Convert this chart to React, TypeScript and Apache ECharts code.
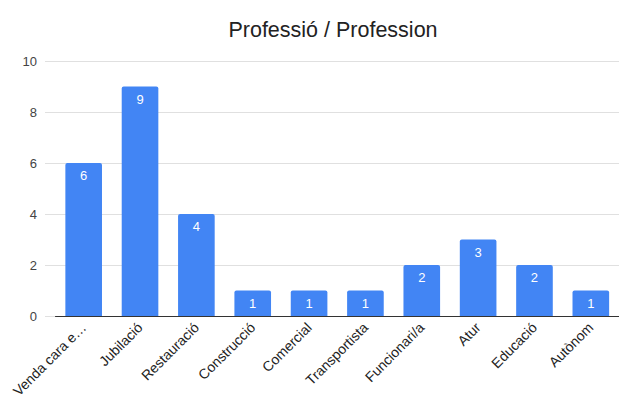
import React, { useEffect, useRef } from "react";
import * as echarts from "echarts";

const categories = [
  "Venda cara e…",
  "Jubilació",
  "Restauració",
  "Construcció",
  "Comercial",
  "Transportista",
  "Funcionari/a",
  "Atur",
  "Educació",
  "Autònom",
];
const values = [6, 9, 4, 1, 1, 1, 2, 3, 2, 1];
const yTicks = [0, 2, 4, 6, 8, 10];

export default function App() {
  const ref = useRef<HTMLDivElement>(null);
  useEffect(() => {
    if (!ref.current) return;
    const chart = echarts.init(ref.current, null, { renderer: "svg" });
    const font = "'Liberation Sans', Arial, sans-serif";
    chart.setOption({
      animation: false,
      backgroundColor: "#ffffff",
      title: {
        text: "Professió / Profession",
        left: 328,
        textAlign: "center",
        top: 14,
        textStyle: { fontFamily: font, fontSize: 21.5, fontWeight: "normal", color: "#222222" },
      },
      grid: [
        { left: 45, right: 0, top: 61, bottom: 94 },
        { left: 55.5, right: 0, top: 61, bottom: 94 },
      ],
      xAxis: [
        { type: "value", gridIndex: 0, show: false, min: 0, max: 1 },
        {
          type: "category",
          gridIndex: 1,
          data: categories,
          axisTick: { show: false },
          axisLine: { show: true, lineStyle: { color: "#333333", width: 1 } },
          axisLabel: {
            interval: 0,
            rotate: 45,
            margin: 9,
            fontFamily: font,
            fontSize: 14,
            color: "#222222",
          },
        },
      ],
      yAxis: [
        {
          type: "value",
          gridIndex: 0,
          min: 0,
          max: 10,
          interval: 2,
          axisLine: { show: false },
          axisTick: { show: false },
          splitLine: { lineStyle: { color: "#e0e0e0", width: 1 } },
          axisLabel: {
            margin: 8,
            fontFamily: font,
            fontSize: 13,
            color: "#444444",
            formatter: (v: number) => (yTicks.includes(v) ? String(v) : ""),
          },
        },
        { type: "value", gridIndex: 1, min: 0, max: 10, interval: 2, show: false },
      ],
      series: [
        {
          type: "bar",
          xAxisIndex: 1,
          yAxisIndex: 1,
          data: values,
          barWidth: "65%",
          itemStyle: { color: "#4285f4", borderRadius: [2, 2, 0, 0] },
          label: {
            show: true,
            position: "insideTop",
            distance: 6,
            color: "#ffffff",
            fontFamily: font,
            fontSize: 13,
          },
        },
      ],
    });
    return () => chart.dispose();
  }, []);
  return (
    <div
      ref={ref}
      style={{ position: "absolute", left: 0, top: 0, width: 619, height: 410 }}
    />
  );
}
